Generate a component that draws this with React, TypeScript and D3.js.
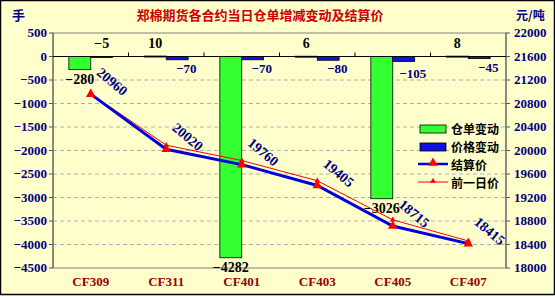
import React from "react";
import * as d3 from "d3";

const categories = ["CF309", "CF311", "CF401", "CF403", "CF405", "CF407"];
const warehouseChange = [-280, 10, -4282, 6, -3026, 8];
const priceChange = [-5, -70, -70, -80, -105, -45];
const settlePrice = [20960, 20020, 19760, 19405, 18715, 18415];
const prevPrice = [20965, 20090, 19830, 19485, 18820, 18460];
const leftTicks = [500, 0, -500, -1000, -1500, -2000, -2500, -3000, -3500, -4000, -4500];
const rightTicks = [22000, 21600, 21200, 20800, 20400, 20000, 19600, 19200, 18800, 18400, 18000];
const legendItems = ["仓单变动", "价格变动", "结算价", "前一日价"];
const title = "郑棉期货各合约当日仓单增减变动及结算价";

const W = 555;
const H = 297;
const plot = { left: 53, right: 506, top: 33, bottom: 268 };
const numFont = "'Liberation Serif', 'Times New Roman', serif";
const cjkFont = "'Noto Sans CJK SC', sans-serif";
const GREEN = "#33ff33";
const BLUE = "#1010e0";
const NAVY = "#000080";

export default function App() {
  const x = d3.scaleBand<string>().domain(categories).range([plot.left, plot.right]).padding(0);
  const yL = d3.scaleLinear().domain([-4500, 500]).range([plot.bottom, plot.top]);
  const yR = d3.scaleLinear().domain([18000, 22000]).range([plot.bottom, plot.top]);
  const bw = x.bandwidth() * 0.29;
  const cx = (c: string) => (x(c) as number) + x.bandwidth() / 2;

  const priceLine = d3.line<number>().x((_, i) => cx(categories[i])).y((d) => yR(d));
  const tri = d3.symbol().type(d3.symbolTriangle);

  const y0 = yL(0);
  const fmt = (n: number) => (n < 0 ? "\u2212" + Math.abs(n) : String(n));

  return (
    <svg width={W} height={H} style={{ position: "absolute", left: 0, top: 0 }}>
      <rect x={0.5} y={0.5} width={W - 1} height={H - 3} fill="#ffffcc" stroke="#000" strokeWidth={1.5} />
      {/* title */}
      <text x={260} y={20} textAnchor="middle" fontFamily={cjkFont} fontWeight="bold" fontSize={13} fill="#cc0000">
        {title}
      </text>
      <text x={12} y={20} fontFamily={cjkFont} fontWeight="bold" fontSize={13} fill={NAVY}>手</text>
      <text x={516} y={20} fontFamily={cjkFont} fontWeight="bold" fontSize={12} fill={NAVY}>元/吨</text>

      {/* gridlines */}
      {leftTicks.slice(1, -1).map((t) => (
        <line key={"g" + t} x1={plot.left} x2={plot.right} y1={yL(t)} y2={yL(t)} stroke="#b0b0b0" strokeDasharray="4,3" strokeWidth={1} />
      ))}
      {/* frame */}
      <rect x={plot.left} y={plot.top} width={plot.right - plot.left} height={plot.bottom - plot.top} fill="none" stroke="#808080" strokeWidth={1} />
      {/* left axis */}
      <line x1={plot.left} x2={plot.left} y1={plot.top} y2={plot.bottom} stroke="#555" />
      {leftTicks.map((t) => (
        <g key={"l" + t}>
          <line x1={plot.left - 4} x2={plot.left} y1={yL(t)} y2={yL(t)} stroke="#555" />
          <text x={47} y={yL(t) + 4} textAnchor="end" fontFamily={numFont} fontWeight="bold" fontSize={13} fill={NAVY}>
            {fmt(t)}
          </text>
        </g>
      ))}
      {/* right axis */}
      <line x1={plot.right} x2={plot.right} y1={plot.top} y2={plot.bottom} stroke="#555" />
      {rightTicks.map((t) => (
        <g key={"r" + t}>
          <line x1={plot.right} x2={plot.right + 4} y1={yR(t)} y2={yR(t)} stroke="#555" />
          <text x={514} y={yR(t) + 4} fontFamily={numFont} fontWeight="bold" fontSize={13} fill={NAVY}>
            {t}
          </text>
        </g>
      ))}
      {/* bars */}
      {categories.map((c, i) => {
        const v = warehouseChange[i];
        const p = priceChange[i];
        const gx = cx(c) - bw;
        const bx = cx(c);
        return (
          <g key={"b" + c}>
            <rect x={gx} y={Math.min(yL(v), y0)} width={bw} height={Math.max(Math.abs(yL(v) - y0), 1)} fill={GREEN} stroke="#000" strokeWidth={0.8} />
            <rect x={bx} y={Math.min(yL(p), y0)} width={bw} height={Math.max(Math.abs(yL(p) - y0), 1)} fill={BLUE} stroke="#000" strokeWidth={0.8} />
          </g>
        );
      })}
      {/* zero axis */}
      <line x1={plot.left} x2={plot.right} y1={y0} y2={y0} stroke="#000" strokeWidth={1} />
      {categories.slice(1).map((c) => (
        <line key={"t" + c} x1={x(c) as number} x2={x(c) as number} y1={y0 - 4} y2={y0} stroke="#000" />
      ))}
      {/* bar labels */}
      {categories.map((c, i) => {
        const v = warehouseChange[i];
        const p = priceChange[i];
        const gcx = cx(c) - bw / 2;
        const bcx = cx(c) + bw / 2;
        return (
          <g key={"lb" + c} fontFamily={numFont} fontWeight="bold" fontSize={14}>
            <text x={gcx} y={v > 0 ? 48 : yL(v) + 14} textAnchor="middle" fill="#000">{fmt(v)}</text>
            <text
              x={p > -20 ? bcx : bcx + 9}
              y={p > -20 ? 48 : yL(p) + 13 + (p < -100 ? 4 : 0)}
              textAnchor="middle"
              fill={p > -20 ? "#000" : NAVY}
              fontSize={p > -20 ? 14 : 13}
            >
              {fmt(p)}
            </text>
          </g>
        );
      })}
      {/* prev price line */}
      <path d={priceLine(prevPrice) || ""} fill="none" stroke="#ff0000" strokeWidth={1} />
      {prevPrice.map((v, i) => (
        <path key={"pm" + i} d={d3.symbol().type(d3.symbolTriangle).size(14)() || ""} transform={`translate(${cx(categories[i])},${yR(v)})`} fill="#ff0000" />
      ))}
      {/* settlement line */}
      <path d={priceLine(settlePrice) || ""} fill="none" stroke="#0000dd" strokeWidth={3} />
      {settlePrice.map((v, i) => (
        <path key={"sm" + i} d={tri.size(40)() || ""} transform={`translate(${cx(categories[i])},${yR(v)})`} fill="#ff0000" />
      ))}
      {settlePrice.map((v, i) => {
        const px = cx(categories[i]);
        const py = yR(v);
        return (
          <text
            key={"sl" + i}
            transform={`translate(${px + 5},${py - 20}) rotate(40)`}
            fontFamily={numFont}
            fontWeight="bold"
            fontSize={14}
            fill={NAVY}
          >
            {v}
          </text>
        );
      })}
      {/* category labels */}
      {categories.map((c) => (
        <text key={"c" + c} x={cx(c)} y={286} textAnchor="middle" fontFamily={numFont} fontWeight="bold" fontSize={13} fill="#990000">
          {c}
        </text>
      ))}
      {/* legend */}
      <g>
        <rect x={420} y={125} width={26} height={8} fill={GREEN} stroke="#000" strokeWidth={0.8} />
        <rect x={420} y={143} width={26} height={8} fill={BLUE} stroke="#000" strokeWidth={0.8} />
        <line x1={418} x2={448} y1={164} y2={164} stroke="#0000dd" strokeWidth={2.5} />
        <path d={tri.size(40)() || ""} transform="translate(433,163)" fill="#ff0000" />
        <line x1={418} x2={448} y1={182} y2={182} stroke="#ff0000" strokeWidth={1} />
        <path d={d3.symbol().type(d3.symbolTriangle).size(14)() || ""} transform="translate(433,181)" fill="#ff0000" />
        {legendItems.map((t, i) => (
          <text key={t} x={451} y={134 + i * 18} fontFamily={cjkFont} fontWeight="bold" fontSize={12} fill="#000">
            {t}
          </text>
        ))}
      </g>
    </svg>
  );
}
